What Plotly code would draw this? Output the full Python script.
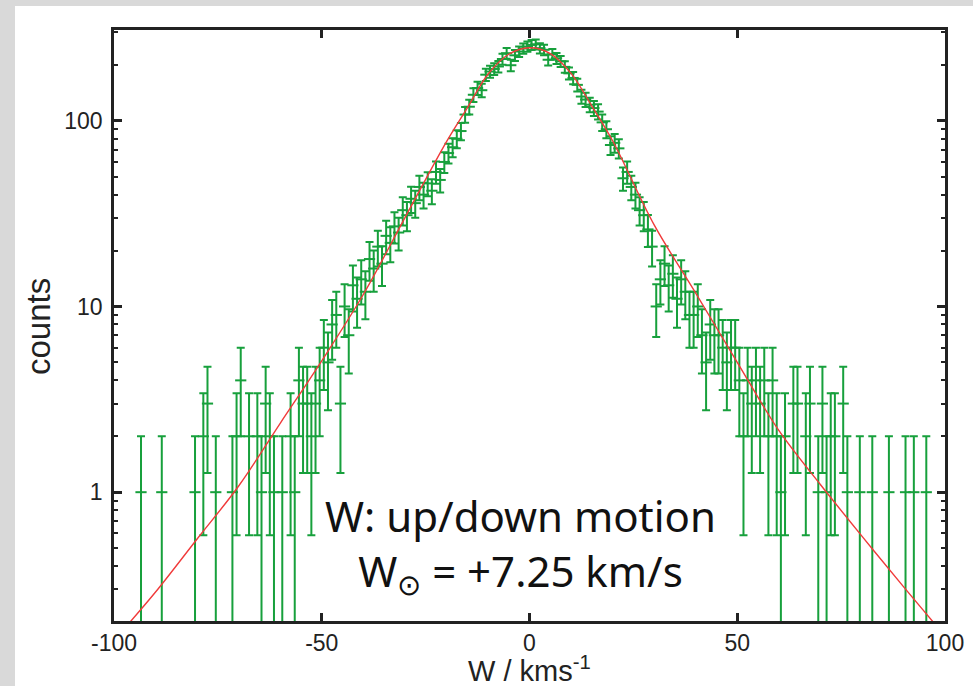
import numpy as np
import plotly.graph_objects as go

# ---- data ----
bin_centers = [
    -93.5, -88.5, -80.5, -78.5, -77.5, -75.5, -71.5, -70.5, -69.5, -67.5, -65.5, -64.5,
    -63.5, -62.5, -61.5, -59.5, -57.5, -56.5, -55.5, -54.5, -53.5, -52.5, -51.5, -50.5,
    -49.5, -48.5, -47.5, -46.5, -45.5, -44.5, -43.5, -42.5, -41.5, -40.5, -39.5, -38.5,
    -37.5, -36.5, -35.5, -34.5, -33.5, -32.5, -31.5, -30.5, -29.5, -28.5, -27.5, -26.5,
    -25.5, -24.5, -23.5, -22.5, -21.5, -20.5, -19.5, -18.5, -17.5, -16.5, -15.5, -14.5,
    -13.5, -12.5, -11.5, -10.5, -9.5, -8.5, -7.5, -6.5, -5.5, -4.5, -3.5, -2.5, -1.5,
    -0.5, 0.5, 1.5, 2.5, 3.5, 4.5, 5.5, 6.5, 7.5, 8.5, 9.5, 10.5, 11.5, 12.5, 13.5,
    14.5, 15.5, 16.5, 17.5, 18.5, 19.5, 20.5, 21.5, 22.5, 23.5, 24.5, 25.5, 26.5, 27.5,
    28.5, 29.5, 30.5, 31.5, 32.5, 33.5, 34.5, 35.5, 36.5, 37.5, 38.5, 39.5, 40.5, 41.5,
    42.5, 43.5, 44.5, 45.5, 46.5, 47.5, 48.5, 49.5, 50.5,
    51.5, 52.5, 53.5, 54.5, 55.5, 56.5, 57.5, 58.5, 59.5, 60.5, 61.5, 63.5, 64.5, 66.5,
    67.5, 69.5, 70.5, 71.5, 72.5, 73.5, 75.5, 76.5, 79.5, 82.5, 86.5, 90.5, 92.5, 95.5,
]
counts = [
    1, 1, 1, 2, 3, 1, 1, 2, 4, 2, 2, 1,
    3, 2, 1, 1, 2, 1, 4, 3, 3, 2, 3, 4,
    6, 5, 8, 9, 3, 10, 7, 13, 11, 14, 12, 18,
    16, 21, 17, 24, 22, 27, 25, 33, 31, 38, 36, 44,
    40, 46, 42, 53, 48, 60, 67, 72, 80, 88, 108, 119,
    138, 150, 146, 177, 184, 190, 196, 215, 231, 199, 225, 236, 245,
    251, 256, 258, 246, 241, 213, 228, 217, 209, 195, 180, 170, 156, 135, 130,
    122, 117, 112, 98, 90, 74, 76, 71, 49, 53, 44, 40, 33, 31,
    26, 21, 10, 14, 17, 13, 15, 11, 14, 12, 9, 9, 10, 7,
    5, 8, 7, 7, 6, 5, 6, 6, 4,
    2, 4, 3, 4, 3, 4, 2, 4, 2, 1, 2, 3, 3, 2,
    3, 1, 3, 1, 2, 2, 3, 1, 1, 1, 1, 1, 1, 1,
]
# fitted model curve
fit_x = [-97, -90, -80, -70, -60, -50, -40, -30, -20, -15, -10, -5, 0,
         5, 10, 15, 20, 30, 40, 50, 60, 70, 80, 90, 98]
fit_y = [0.19, 0.29, 0.56, 1.08, 2.35, 5.1, 11.6, 30.0, 77, 117, 178, 228, 247,
         230, 180, 120, 78, 27.5, 11.8, 5.0, 2.15, 1.1, 0.58, 0.31, 0.19]

x_ticks = [-100, -50, 0, 50, 100]
y_ticks = [1, 10, 100]
y_tick_text = ["1", "10", "100"]
y_minor = [0.3, 0.4, 0.5, 0.6, 0.7, 0.8, 0.9, 2, 3, 4, 5, 6, 7, 8, 9,
           20, 30, 40, 50, 60, 70, 80, 90, 200, 300]

GREEN = "#17a03c"
RED = "#f03a3a"
AX = "#222222"

errs = np.sqrt(np.array(counts, dtype=float))

fig = go.Figure()
fig.add_trace(go.Scatter(
    x=bin_centers, y=counts, mode="markers",
    marker=dict(symbol="line-ew", size=8, color=GREEN,
                line=dict(width=2, color=GREEN)),
    error_y=dict(type="data", array=errs, symmetric=True,
                 color=GREEN, thickness=2, width=4),
    showlegend=False, hoverinfo="skip",
))
fig.add_trace(go.Scatter(
    x=fit_x, y=fit_y, mode="lines", line=dict(color=RED, width=1.4, shape="spline"),
    showlegend=False, hoverinfo="skip",
))

L, R, T, B = 114, 28, 30, 65
W, H = 973, 686
pw, ph = W - L - R, H - T - B


def px(x):
    return (x - L) / pw


def py(y):
    return (H - B - y) / ph


# white panel over grey frame
fig.add_shape(type="rect", xref="paper", yref="paper", layer="below",
              x0=px(15), x1=px(W + 5), y0=py(H + 5), y1=py(6),
              fillcolor="white", line=dict(width=0))

fig.add_annotation(x=px(520), y=py(545), xref="paper", yref="paper",
                   text="W: up/down motion<br>W<sub>⊙</sub> = +7.25 km/s",
                   showarrow=False, align="center",
                   font=dict(family="Noto Sans", size=42, color="#111111"),
                   xanchor="center", yanchor="middle")
# axis titles
fig.add_annotation(x=px(529), y=py(669), xref="paper", yref="paper",
                   text="W / kms<sup>-1</sup>", showarrow=False,
                   font=dict(size=29, color=AX), xanchor="center", yanchor="middle")
fig.add_annotation(x=px(38), y=py(327), xref="paper", yref="paper",
                   text="counts", showarrow=False, textangle=-90,
                   font=dict(size=33, color=AX), xanchor="center", yanchor="middle")

fig.update_layout(
    width=W, height=H,
    margin=dict(l=L, r=R, t=T, b=B, autoexpand=False),
    paper_bgcolor="#d9d9d9", plot_bgcolor="white",
    font=dict(family="Liberation Sans, Arial, sans-serif", color=AX),
)
fig.update_xaxes(
    range=[-100, 100], tickvals=x_ticks, ticktext=[str(v) for v in x_ticks],
    ticks="inside", ticklen=8, tickwidth=2.5, tickcolor=AX,
    showline=True, linewidth=2.5, linecolor=AX, mirror="ticks",
    showgrid=False, zeroline=False, automargin=False,
    tickfont=dict(size=23, color=AX), ticklabelstandoff=0,
)
fig.update_yaxes(
    type="log", range=[np.log10(0.2025), np.log10(308)],
    tickvals=y_ticks, ticktext=y_tick_text,
    ticks="inside", ticklen=8, tickwidth=2.5, tickcolor=AX,
    minor=dict(tickvals=y_minor, ticks="inside", ticklen=4, tickwidth=2, tickcolor=AX,
               showgrid=False),
    showline=True, linewidth=2.5, linecolor=AX, mirror="ticks",
    showgrid=False, zeroline=False, automargin=False,
    tickfont=dict(size=23, color=AX), ticklabelstandoff=4,
)

fig.write_html("out.html", config={"displayModeBar": False},
               post_script="document.body.style.margin='0';document.body.style.overflow='hidden';")
